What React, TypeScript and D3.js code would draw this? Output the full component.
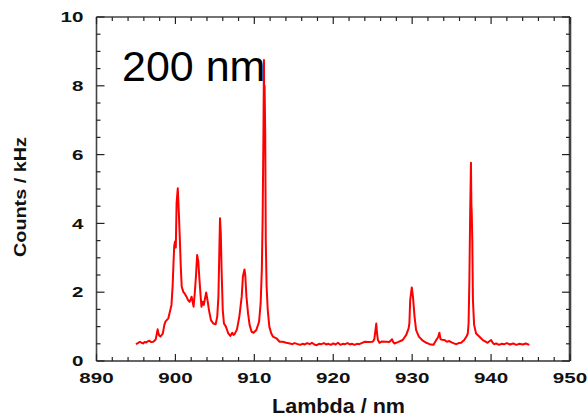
import React from "react";
import * as d3 from "d3";

const wavelengths: number[] = [
  895.0, 895.3, 895.5, 895.7, 895.9, 896.1, 896.3, 896.5, 896.7, 896.9, 897.2, 897.4, 897.5, 897.65, 897.75, 897.85, 897.95,
  898.1, 898.25, 898.4, 898.6, 898.75, 898.9, 899.1, 899.3, 899.5, 899.65, 899.75, 899.85, 899.95, 900.05, 900.15, 900.3,
  900.42, 900.55, 900.68, 900.8, 901.0, 901.2, 901.4, 901.6, 901.8, 901.95, 902.05, 902.2, 902.3, 902.45, 902.6, 902.75,
  902.9, 903.05, 903.2, 903.3, 903.45, 903.6, 903.75, 903.9, 904.1, 904.25, 904.5, 904.8, 905.1, 905.3, 905.45, 905.55,
  905.65, 905.75, 905.85, 906.0, 906.15, 906.4, 906.7, 906.95, 907.2, 907.35, 907.5, 907.8, 908.1, 908.4, 908.55, 908.75,
  908.85, 909.0, 909.2, 909.4, 909.65, 909.9, 910.25, 910.6, 910.8, 910.95, 911.05, 911.15, 911.22, 911.26, 911.3, 911.38, 911.45,
  911.55, 911.7, 911.9, 912.15, 912.35, 912.8, 913.2, 913.6, 914.05, 914.5, 914.8, 915.1, 915.5, 915.8, 916.1, 916.4,
  916.7, 917.0, 917.3, 917.6, 917.9, 918.2, 918.5, 918.8, 919.1, 919.4, 919.7, 920.0, 920.3, 920.6, 920.9, 921.2, 921.5,
  921.8, 922.1, 922.4, 922.7, 923.0, 923.3, 923.6, 924.0, 924.4, 925.0, 925.2, 925.35, 925.45, 925.55, 925.65, 925.85,
  926.2, 926.7, 927.1, 927.45, 927.6, 927.75, 928.2, 928.8, 929.25, 929.55, 929.65, 929.75, 929.95, 930.1, 930.3, 930.5,
  930.85, 931.35, 931.8, 932.2, 932.7, 933.05, 933.3, 933.45, 933.6, 933.8, 934.1, 934.4, 934.7, 935.0, 935.3, 935.6,
  935.9, 936.2, 936.6, 936.9, 937.05, 937.15, 937.25, 937.35, 937.45, 937.5, 937.55, 937.62, 937.7, 937.85, 938.1, 938.5,
  938.95, 939.25, 939.55, 940.0, 940.2, 940.4, 940.65, 941.0, 941.3, 941.7, 942.0, 942.4, 942.8, 943.2, 943.6, 944.0,
  944.4, 944.85,
];

const counts: number[] = [
  0.49, 0.53, 0.56, 0.53, 0.51, 0.55, 0.54, 0.57, 0.59, 0.55, 0.56, 0.6, 0.63, 0.8, 0.92, 0.8, 0.74,
  0.71, 0.75, 0.8, 1.05, 1.15, 1.19, 1.24, 1.43, 1.63, 2.2, 2.8, 3.35, 3.47, 3.3, 4.6, 5.02,
  4.39, 3.61, 2.74, 2.16, 2.01, 1.95, 1.87, 1.77, 1.72, 1.8, 1.87, 1.7, 1.58, 1.97, 2.45, 3.08,
  2.9, 2.35, 1.87, 1.58, 1.72, 1.63, 1.82, 1.99, 1.72, 1.48, 1.19, 1.09, 1.07, 1.29, 1.87, 3.03,
  4.15, 3.71, 2.65, 1.48, 1.09, 1.0, 0.8, 0.73, 0.82, 0.76, 0.78, 0.92, 1.29, 1.87, 2.45, 2.66,
  2.5, 1.87, 1.39, 1.05, 0.85, 0.82, 0.9, 1.14, 1.68, 2.65, 4.1, 6.5, 8.75, 6.8, 8.0, 6.6, 3.5,
  2.2, 1.48, 1.0, 0.8, 0.71, 0.66, 0.56, 0.56, 0.53, 0.51, 0.49, 0.52, 0.49, 0.47, 0.5, 0.48,
  0.52, 0.49, 0.53, 0.48, 0.46, 0.5, 0.49, 0.52, 0.48, 0.5, 0.47, 0.51, 0.48, 0.53, 0.47, 0.5, 0.49,
  0.52, 0.48, 0.5, 0.47, 0.5, 0.49, 0.52, 0.56, 0.55, 0.56, 0.63, 0.9, 1.09, 0.8, 0.62, 0.53,
  0.57, 0.56, 0.55, 0.63, 0.55, 0.51, 0.55, 0.61, 0.76, 0.95, 1.1, 1.77, 2.14, 1.87, 1.29, 0.9,
  0.71, 0.59, 0.53, 0.49, 0.47, 0.61, 0.7, 0.82, 0.63, 0.62, 0.61, 0.56, 0.58, 0.54, 0.51, 0.49,
  0.52, 0.53, 0.61, 0.72, 0.8, 1.09, 2.35, 4.29, 5.76, 4.6, 4.29, 3.52, 1.77, 1.05, 0.8, 0.71,
  0.61, 0.57, 0.53, 0.61, 0.53, 0.49, 0.51, 0.47, 0.5, 0.49, 0.52, 0.48, 0.51, 0.47, 0.5, 0.48,
  0.51, 0.47,
];

const xMajorTicks: number[] = [890, 900, 910, 920, 930, 940, 950];
const yMajorTicks: number[] = [0, 2, 4, 6, 8, 10];
const xTitle = "Lambda / nm";
const yTitle = "Counts / kHz";
const annotation = "200 nm";

export default function App() {
  const W = 588;
  const H = 419;
  const left = 96.5;
  const right = 570;
  const top = 17;
  const bottom = 361;

  const x = d3.scaleLinear().domain([890, 950]).range([left, right]);
  const y = d3.scaleLinear().domain([0, 10]).range([bottom, top]);

  const pts: [number, number][] = wavelengths.map((w, i) => [w, counts[i]]);
  const line = d3
    .line<[number, number]>()
    .x((d) => x(d[0]))
    .y((d) => y(d[1]));

  const xMinor = d3.range(890, 950.001, 2);
  const yMinor = d3.range(0, 10.001, 0.5);

  const tickColor = "#222";
  const font = "'Liberation Sans', Arial, sans-serif";

  return (
    <svg
      width={W}
      height={H}
      style={{ position: "absolute", left: 0, top: 0, background: "#fff" }}
    >
      {/* data line */}
      <path d={line(pts) || ""} fill="none" stroke="#ff0000" strokeWidth={2} strokeLinejoin="round" />

      {/* frame */}
      <line x1={left} x2={left} y1={top} y2={bottom} stroke="#444" strokeWidth={1.6} />
      <line x1={left} x2={right} y1={bottom} y2={bottom} stroke="#333" strokeWidth={1.6} />
      <line x1={left} x2={right} y1={top} y2={top} stroke="#444" strokeWidth={1.6} />
      <line x1={right} x2={right} y1={top} y2={bottom} stroke="#444" strokeWidth={2.6} />

      {/* x ticks */}
      {xMinor.map((v) => {
        const major = Math.abs(v % 10) < 1e-6;
        const len = major ? 7 : 4;
        return (
          <g key={"xt" + v}>
            <line x1={x(v)} x2={x(v)} y1={bottom} y2={bottom - len} stroke={tickColor} strokeWidth={1.2} />
            <line x1={x(v)} x2={x(v)} y1={top} y2={top + len} stroke={tickColor} strokeWidth={1.2} />
          </g>
        );
      })}
      {/* y ticks */}
      {yMinor.map((v) => {
        const major = Math.abs(v % 2) < 1e-6;
        const len = major ? 8 : 4;
        return (
          <g key={"yt" + v}>
            <line x1={left} x2={left + len} y1={y(v)} y2={y(v)} stroke={tickColor} strokeWidth={1.2} />
            <line x1={right} x2={right - len} y1={y(v)} y2={y(v)} stroke={tickColor} strokeWidth={1.2} />
          </g>
        );
      })}

      {/* x tick labels */}
      {xMajorTicks.map((v) => (
        <text
          key={"xl" + v}
          transform={`translate(${x(v)},382.5) scale(1.42,1)`}
          textAnchor="middle"
          fontFamily={font}
          fontWeight="bold"
          fontSize={14.5}
          fill="#111"
        >
          {v}
        </text>
      ))}
      {/* y tick labels */}
      {yMajorTicks.map((v) => (
        <text
          key={"yl" + v}
          transform={`translate(83.5,${y(v) + 5.2}) scale(1.42,1)`}
          textAnchor="end"
          fontFamily={font}
          fontWeight="bold"
          fontSize={14.5}
          fill="#111"
        >
          {v}
        </text>
      ))}

      {/* axis titles */}
      <text
        x={272}
        y={413}
        fontFamily={font}
        fontWeight="bold"
        fontSize={19.5}
        textLength={133}
        lengthAdjust="spacingAndGlyphs"
        fill="#111"
      >
        {xTitle}
      </text>
      <text
        transform={`translate(25.5,257) rotate(-90)`}
        fontFamily={font}
        fontWeight="bold"
        fontSize={16.5}
        textLength={120}
        lengthAdjust="spacingAndGlyphs"
        fill="#111"
      >
        {yTitle}
      </text>

      {/* annotation */}
      <text x={122} y={81} fontFamily={font} fontSize={43} fill="#000">
        {annotation}
      </text>
    </svg>
  );
}
